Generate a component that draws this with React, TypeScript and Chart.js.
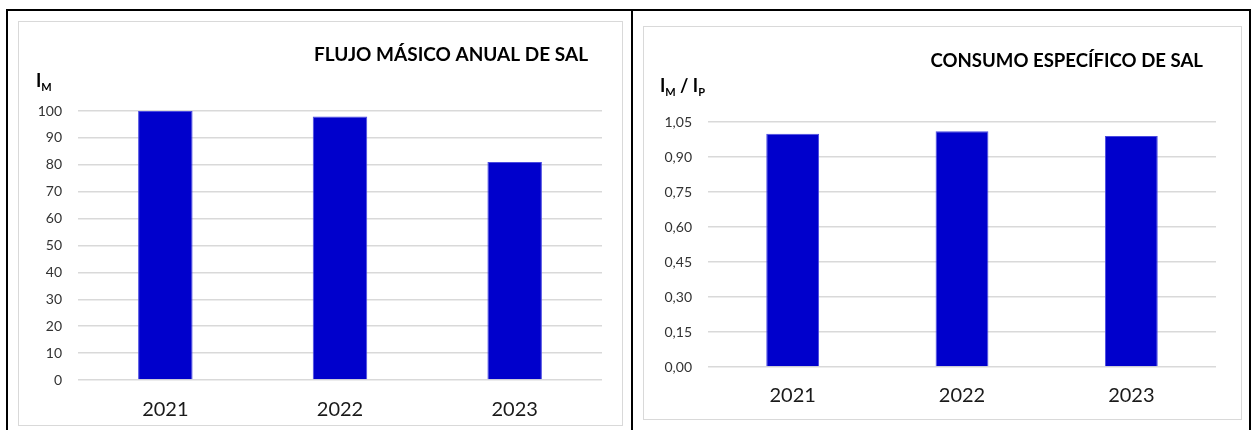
import React, { useEffect, useRef } from "react";
import { Chart, registerables } from "chart.js";

Chart.register(...registerables);

// ---- data ----
const categories = ["2021", "2022", "2023"];
const massFlowValues = [100, 98, 81];
const specificConsumptionValues = [1.0, 1.01, 0.99];
const massFlowTickLabels = ["0", "10", "20", "30", "40", "50", "60", "70", "80", "90", "100"];
const specificTickLabels = ["0,00", "0,15", "0,30", "0,45", "0,60", "0,75", "0,90", "1,05"];
const massFlowTitle = "FLUJO MÁSICO ANUAL DE SAL";
const specificTitle = "CONSUMO ESPECÍFICO DE SAL";

const BAR_COLOR = "#0000CC";
const GRID_COLOR = "#d9d9d9";
const FONT = "Lato";

type UnitPart = { t: string; sub?: boolean };

const panelTextPlugin = {
  id: "panelText",
  afterDraw(chart: any, _args: any, opts: any) {
    const ctx = chart.ctx as CanvasRenderingContext2D;
    ctx.save();
    ctx.fillStyle = "#000000";
    ctx.textBaseline = "alphabetic";
    ctx.font = `bold ${opts.titleSize}px ${FONT}`;
    ctx.textAlign = "right";
    ctx.fillText(opts.title, opts.titleX, opts.titleY);
    ctx.textAlign = "left";
    let x = opts.unitX;
    (opts.unit as UnitPart[]).forEach((p) => {
      ctx.font = p.sub ? `bold 11px ${FONT}` : `bold 18px ${FONT}`;
      ctx.fillText(p.t, x, opts.unitY + (p.sub ? 4 : 0));
      x += ctx.measureText(p.t).width;
    });
    ctx.restore();
  },
};

function makeConfig(
  values: number[],
  tickLabels: string[],
  yMin: number,
  yMax: number,
  step: number,
  layout: { top: number; right: number; yWidth: number; xHeight: number; xPad: number },
  text: any
): any {
  return {
    type: "bar",
    data: {
      labels: categories,
      datasets: [
        {
          data: values,
          backgroundColor: BAR_COLOR,
          borderColor: "#4a4ae0",
          borderWidth: 1,
          categoryPercentage: 1,
          barPercentage: 0.312,
        },
      ],
    },
    options: {
      responsive: false,
      animation: false,
      layout: { padding: { top: layout.top, right: layout.right, left: 0, bottom: 0 } },
      plugins: {
        legend: { display: false },
        tooltip: { enabled: false },
        title: { display: false },
        panelText: text,
      },
      scales: {
        x: {
          grid: { display: false, drawTicks: false },
          border: { display: false },
          ticks: { font: { family: FONT, size: 20 }, color: "#1a1a1a", padding: layout.xPad },
          afterFit: (s: any) => {
            s.height = layout.xHeight;
          },
        },
        y: {
          min: yMin,
          max: yMax,
          grid: { color: GRID_COLOR, lineWidth: 1.5, drawTicks: false },
          border: { display: false },
          ticks: {
            stepSize: step,
            padding: 16,
            font: { family: FONT, size: 14 },
            color: "#333333",
            callback: (_v: any, i: number) => tickLabels[i],
          },
          afterFit: (s: any) => {
            s.width = layout.yWidth;
          },
        },
      },
    },
    plugins: [panelTextPlugin],
  };
}

export default function App() {
  const leftRef = useRef<HTMLCanvasElement>(null);
  const rightRef = useRef<HTMLCanvasElement>(null);

  useEffect(() => {
    const left = new Chart(
      leftRef.current!,
      makeConfig(
        massFlowValues,
        massFlowTickLabels,
        0,
        100,
        10,
        { top: 90, right: 20, yWidth: 60, xHeight: 45, xPad: 18 },
        {
          title: massFlowTitle,
          titleSize: 19,
          titleX: 570,
          titleY: 40,
          unit: [{ t: "I" }, { t: "M", sub: true }],
          unitX: 18,
          unitY: 66,
        }
      )
    );
    const right = new Chart(
      rightRef.current!,
      makeConfig(
        specificConsumptionValues,
        specificTickLabels,
        0,
        1.05,
        0.15,
        { top: 96, right: 25, yWidth: 65, xHeight: 52, xPad: 17 },
        {
          title: specificTitle,
          titleSize: 18.6,
          titleX: 560,
          titleY: 41,
          unit: [{ t: "I" }, { t: "M", sub: true }, { t: " / I" }, { t: "P", sub: true }],
          unitX: 17,
          unitY: 66,
        }
      )
    );
    return () => {
      left.destroy();
      right.destroy();
    };
  }, []);

  const abs = (l: number, t: number, w: number, h: number, extra: any = {}): any => ({
    position: "absolute",
    left: l,
    top: t,
    width: w,
    height: h,
    boxSizing: "border-box",
    ...extra,
  });

  return (
    <div style={abs(0, 0, 1256, 430, { overflow: "hidden", background: "#ffffff" })}>
      <div style={abs(6, 9, 627, 450, { border: "2px solid #000" })} />
      <div style={abs(631, 9, 620, 450, { border: "2px solid #000" })} />
      <div style={abs(18, 21, 605, 405, { border: `1px solid ${GRID_COLOR}` })} />
      <div style={abs(643, 26, 599, 394, { border: `1px solid ${GRID_COLOR}` })} />
      <canvas ref={leftRef} width={604} height={404} style={{ position: "absolute", left: 18, top: 21 }} />
      <canvas ref={rightRef} width={598} height={393} style={{ position: "absolute", left: 643, top: 26 }} />
    </div>
  );
}
